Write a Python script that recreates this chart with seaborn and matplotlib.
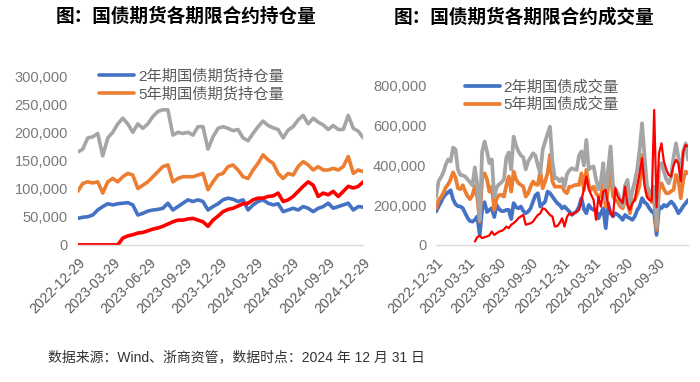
import numpy as np
import pandas as pd
import matplotlib
matplotlib.use("Agg")
import matplotlib.pyplot as plt
from matplotlib.ticker import StrMethodFormatter
import seaborn as sns

# ---- 持仓量 (千手), 约两周一个点 ----
oi_dates = pd.date_range("2022-12-29", "2024-12-29", periods=58)
oi_2y = [47, 49, 50, 53, 62, 68, 73, 71, 73, 74, 75, 71, 53, 56, 60, 62, 63, 65, 74, 62,
         68, 74, 80, 77, 80, 77, 62, 68, 73, 80, 83, 81, 77, 80, 62, 71, 77, 80, 74, 71,
         73, 59, 62, 65, 62, 68, 65, 59, 65, 68, 74, 65, 68, 71, 74, 62, 68, 67]
oi_5y = [95, 109, 112, 110, 112, 92, 112, 118, 112, 121, 127, 124, 100, 106, 112, 121, 130, 139, 142, 112,
         118, 121, 121, 121, 124, 127, 98, 112, 124, 127, 139, 142, 133, 121, 118, 133, 145, 160, 151, 145,
         127, 118, 127, 124, 139, 148, 142, 133, 139, 133, 133, 136, 133, 139, 157, 127, 133, 130]
oi_10y = [165, 170, 190, 192, 198, 158, 190, 200, 215, 225, 215, 200, 215, 207, 215, 228, 237, 240, 240, 195,
          200, 198, 200, 195, 210, 210, 170, 192, 207, 210, 207, 203, 205, 190, 185, 198, 210, 220, 212, 208,
          205, 190, 204, 210, 222, 230, 215, 225, 218, 213, 205, 212, 205, 205, 230, 207, 202, 190]
oi_30y = [0, 0, 0, 0, 0, 0, 0, 0, 0, 12, 16, 18, 21, 22, 25, 28, 30, 33, 37, 41,
          44, 44, 46, 47, 44, 41, 33, 44, 51, 59, 63, 65, 69, 73, 74, 80, 83, 83, 86, 87,
          92, 77, 80, 86, 95, 104, 112, 106, 86, 92, 89, 95, 86, 95, 104, 101, 104, 112]

# ---- 成交量 (千手), 周度 ----
vol_dates = pd.date_range("2022-12-30", "2024-12-27", freq="W-FRI")
vol_2y = [168, 193, 215, 240, 255, 265, 275, 230, 205, 195,
          193, 185, 160, 135, 120, 117, 126, 143, 50, 180,
          215, 165, 176, 185, 140, 200, 180, 170, 170, 176,
          176, 130, 210, 190, 184, 193, 170, 159, 168, 184,
          218, 250, 260, 193, 205, 218, 268, 260, 243, 226,
          210, 201, 184, 193, 180, 168, 151, 160, 168, 193,
          235, 180, 159, 201, 184, 176, 176, 134, 159, 184,
          84, 210, 160, 143, 159, 151, 140, 126, 151, 140,
          134, 126, 143, 175, 193, 235, 215, 205, 184, 168,
          159, 50, 193, 184, 201, 193, 205, 218, 205, 185,
          159, 175, 195, 210, 226]
vol_5y = [184, 226, 240, 260, 290, 305, 330, 365, 340, 285,
          280, 300, 270, 245, 230, 250, 295, 240, 117, 340,
          360, 330, 268, 293, 176, 235, 250, 252, 243, 300,
          344, 268, 369, 330, 310, 302, 293, 243, 260, 293,
          319, 305, 302, 369, 285, 320, 360, 453, 320, 293,
          293, 293, 293, 270, 260, 293, 293, 300, 302, 302,
          360, 277, 377, 300, 277, 293, 260, 243, 243, 319,
          193, 290, 377, 243, 226, 215, 193, 184, 226, 215,
          159, 226, 226, 260, 300, 453, 330, 260, 243, 215,
          226, 75, 277, 310, 280, 260, 260, 270, 277, 352,
          327, 235, 327, 369, 360]
vol_10y = [243, 319, 340, 365, 405, 430, 420, 490, 480, 380,
           352, 350, 344, 330, 315, 300, 390, 300, 126, 470,
           520, 470, 411, 430, 240, 290, 305, 315, 330, 440,
           465, 380, 545, 500, 470, 450, 440, 380, 420, 440,
           461, 450, 400, 360, 480, 520, 560, 595, 420, 335,
           335, 320, 335, 293, 355, 375, 386, 380, 377, 450,
           470, 400, 528, 380, 390, 395, 330, 280, 320, 411,
           226, 380, 495, 300, 280, 260, 226, 195, 300, 327,
           210, 270, 320, 380, 480, 612, 450, 300, 270, 260,
           293, 92, 394, 411, 370, 330, 310, 344, 440, 511,
           440, 340, 470, 511, 428]
vol_30y = [np.nan] * 16 + [
           17, 39, 45, 34, 39, 42, 48, 67, 50, 59,
           67, 70, 78, 92, 84, 101, 110, 120, 135, 143,
           151, 101, 105, 109, 117, 135, 150, 159, 184, 180,
           165, 150, 143, 92, 95, 110, 134, 92, 140, 159,
           151, 160, 168, 176, 226, 280, 344, 280, 252, 226,
           126, 243, 193, 268, 277, 200, 159, 143, 285, 240,
           226, 210, 293, 200, 176, 210, 225, 300, 360, 436,
           300, 240, 226, 222, 679, 190, 461, 511, 420, 380,
           352, 344, 400, 428, 411, 320, 470, 503, 495]

left_ticks = ["2022-12-29", "2023-03-29", "2023-06-29", "2023-09-29", "2023-12-29",
              "2024-03-29", "2024-06-29", "2024-09-29", "2024-12-29"]
right_ticks = ["2022-12-31", "2023-03-31", "2023-06-30", "2023-09-30", "2023-12-31",
               "2024-03-31", "2024-06-30", "2024-09-30"]

BLUE, ORANGE, GRAY, RED = "#4472C4", "#ED7D31", "#A5A5A5", "#FF0000"
TXT = "#595959"
YTXT = "#7A7A7A"

sns.set_style("white")
plt.rcParams["font.family"] = ["Liberation Sans", "Noto Sans CJK SC", "DejaVu Sans"]

oi = pd.DataFrame({"date": oi_dates, "2y": oi_2y, "5y": oi_5y, "10y": oi_10y, "30y": oi_30y})
vol = pd.DataFrame({"date": vol_dates, "2y": vol_2y, "5y": vol_5y, "10y": vol_10y, "30y": vol_30y})
for df in (oi, vol):
    for c in ["2y", "5y", "10y", "30y"]:
        df[c] = df[c] * 1000

fig = plt.figure(figsize=(7, 3.82), dpi=100)
ax1 = fig.add_axes([0.111, 0.359, 0.408, 0.442])
ax2 = fig.add_axes([0.623, 0.359, 0.36, 0.416])


def draw(ax, df, labels, lw, red_lw):
    sns.lineplot(data=df, x="date", y="2y", ax=ax, color=BLUE, linewidth=lw, label=labels[0])
    sns.lineplot(data=df, x="date", y="5y", ax=ax, color=ORANGE, linewidth=lw, label=labels[1])
    sns.lineplot(data=df, x="date", y="10y", ax=ax, color=GRAY, linewidth=lw, legend=False)
    sns.lineplot(data=df, x="date", y="30y", ax=ax, color=RED, linewidth=red_lw, legend=False)
    ax.set_xlabel("")
    ax.set_ylabel("")
    for s in ["top", "right", "left"]:
        ax.spines[s].set_visible(False)
    ax.spines["bottom"].set_color("#D9D9D9")
    ax.spines["bottom"].set_linewidth(1.0)
    ax.yaxis.set_major_formatter(StrMethodFormatter("{x:,.0f}"))
    ax.tick_params(axis="y", length=0, pad=7, labelsize=10.5, labelcolor=YTXT)
    ax.tick_params(axis="x", length=5, width=1, color="#D9D9D9", direction="out",
                   pad=3, labelsize=10, labelcolor=TXT)


draw(ax1, oi, ["2年期国债期货持仓量", "5年期国债期货持仓量"], 2.6, 2.6)
ax1.set_ylim(0, 300000)
ax1.set_yticks(range(0, 300001, 50000))
ax1.set_xlim(pd.Timestamp(left_ticks[0]), pd.Timestamp(left_ticks[-1]))
ax1.set_xticks(pd.to_datetime(left_ticks))
ax1.set_xticklabels(left_ticks, rotation=45, ha="right", rotation_mode="anchor")
ax1.legend(loc="upper left", bbox_to_anchor=(0.131, 0.84), bbox_transform=fig.transFigure,
           frameon=False, fontsize=11, handlelength=2.3, handletextpad=0.25,
           labelspacing=0.2, borderpad=0, labelcolor=TXT)

draw(ax2, vol, ["2年期国债成交量", "5年期国债成交量"], 2.7, 1.6)
ax2.set_ylim(0, 800000)
ax2.set_yticks(range(0, 800001, 200000))
ax2.set_xlim(vol_dates[0], vol_dates[-1])
ax2.set_xticks(pd.to_datetime(right_ticks))
ax2.set_xticklabels(right_ticks, rotation=45, ha="right", rotation_mode="anchor")
ax2.legend(loc="upper left", bbox_to_anchor=(0.653, 0.81), bbox_transform=fig.transFigure,
           frameon=False, fontsize=11, handlelength=2.3, handletextpad=0.25,
           labelspacing=0.2, borderpad=0, labelcolor=TXT)

fig.text(0.266, 0.955, "图：国债期货各期限合约持仓量", ha="center", va="center",
         fontsize=13.4, fontweight="bold", color="#000000")
fig.text(0.749, 0.955, "图：国债期货各期限合约成交量", ha="center", va="center",
         fontsize=13.4, fontweight="bold", color="#000000")
fig.text(0.069, 0.065, "数据来源：Wind、浙商资管，数据时点：2024 年 12 月 31 日",
         ha="left", va="center", fontsize=10, color="#333333")

fig.savefig("out.png", dpi=100)
